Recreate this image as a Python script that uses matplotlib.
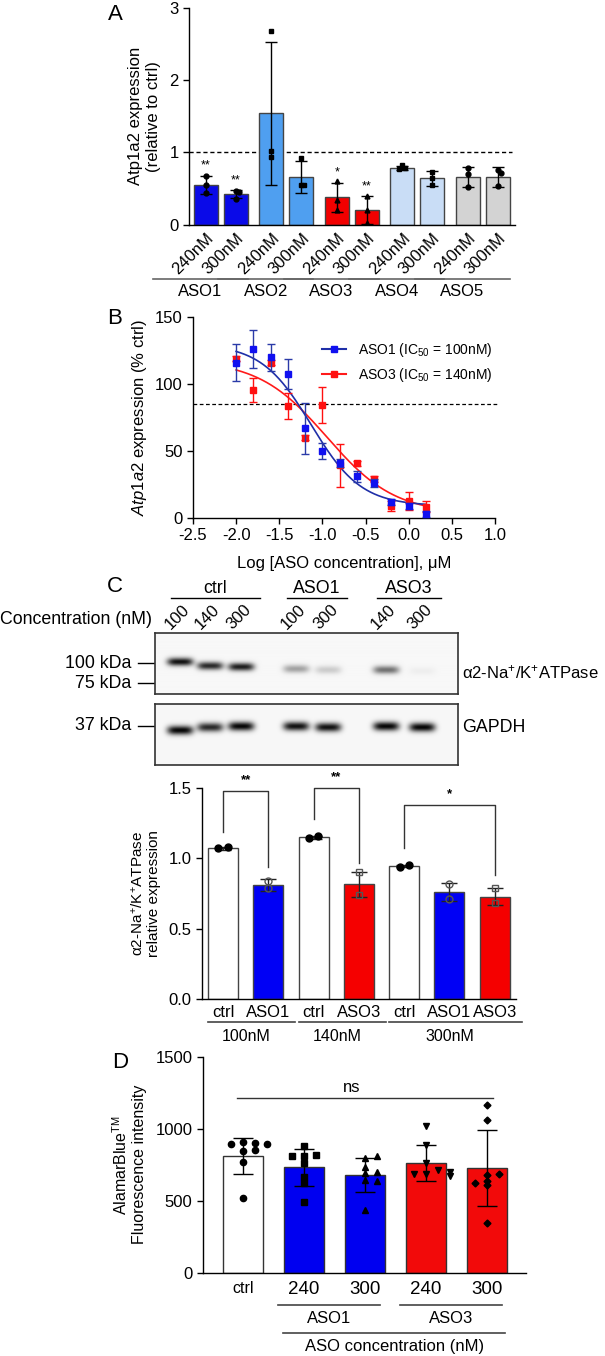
import matplotlib
matplotlib.use('Agg')
import matplotlib.pyplot as plt
import numpy as np
from matplotlib.lines import Line2D

plt.rcParams['font.family'] = ['Liberation Sans', 'DejaVu Sans']
plt.rcParams['axes.unicode_minus'] = False
plt.rcParams['mathtext.fontset'] = 'custom'
plt.rcParams['mathtext.rm'] = 'Liberation Sans'
plt.rcParams['mathtext.it'] = 'Liberation Sans:italic'
plt.rcParams['axes.linewidth'] = 1.0

# ---------------- data ----------------
# panel A: qPCR screen
a_groups = ['ASO1', 'ASO2', 'ASO3', 'ASO4', 'ASO5']
a_doses = ['240nM', '300nM']
a_mean = [0.55, 0.42, 1.54, 0.66, 0.38, 0.20, 0.78, 0.64, 0.66, 0.66]
a_sd = [0.12, 0.055, 0.99, 0.22, 0.20, 0.19, 0.03, 0.10, 0.14, 0.135]
a_points = [[0.68, 0.55, 0.44], [0.47, 0.45, 0.35], [2.68, 1.02, 0.93],
            [0.92, 0.55, 0.55], [0.60, 0.34, 0.20], [0.39, 0.20, 0.02],
            [0.82, 0.79, 0.77], [0.73, 0.64, 0.55], [0.78, 0.70, 0.52],
            [0.76, 0.72, 0.53]]
a_stars = ['**', '**', '', '', '*', '**', '', '', '', '']
a_colors = ['#0a0ae8', '#4f9ff0', '#f20000', '#c9ddf6', '#d3d3d3']

# panel B: dose response
b_logx = [-2.0, -1.8, -1.6, -1.4, -1.2, -1.0, -0.8, -0.6, -0.4, -0.2, 0.0, 0.2]
b_aso1 = [116, 126, 120, 107.5, 67, 50, 41, 31, 26, 12, 9, 3]
b_aso1_err = [14, 14, 10, 11.5, 19, 6, 3, 4, 3, 2, 2, 2]
b_aso3 = [119, 95.5, 116, 83.6, 60, 84.3, 39.5, 40.8, 29, 9, 12.7, 8.5]
b_aso3_err = [2, 9, 2, 10, 2, 13.5, 16, 2, 2, 4, 7, 4]
# fitted 4-parameter curves (top, bottom, logIC50, hill)
b_fit1 = (130, 9, -1.13, 1.5)
b_fit3 = (118, 3, -0.95, 1.1)
b_ref = 85

# panel C: western blot
blot_groups = ['ctrl', 'ASO1', 'ASO3']
blot_lanes = ['100', '140', '300', '100', '300', '140', '300']
blot_alpha2 = [0.95, 0.85, 0.90, 0.35, 0.18, 0.55, 0.04]
blot_gapdh = [1.0, 0.85, 1.0, 0.95, 0.95, 1.0, 1.0]
c_labels = ['ctrl', 'ASO1', 'ctrl', 'ASO3', 'ctrl', 'ASO1', 'ASO3']
c_conc = ['100nM', '140nM', '300nM']
c_mean = [1.07, 0.81, 1.15, 0.815, 0.945, 0.763, 0.728]
c_err = [0.01, 0.04, 0.01, 0.09, 0.01, 0.065, 0.06]
c_points = [[1.07, 1.08], [0.84, 0.79], [1.145, 1.16], [0.90, 0.74],
            [0.94, 0.955], [0.82, 0.71], [0.79, 0.68]]

# panel D: AlamarBlue viability
d_labels = ['ctrl', '240', '300', '240', '300']
d_mean = [810, 732, 678, 760, 725]
d_err = [127, 130, 116, 124, 264]
d_points = [[905, 900, 895, 893, 845, 855, 771, 521],
            [882, 810, 817, 812, 760, 667, 625, 491],
            [736, 799, 810, 645, 639, 690, 701, 435],
            [1019, 887, 764, 685, 713, 685, 701, 674],
            [1164, 1060, 639, 678, 685, 609, 620, 343]]

W, H = 605, 1356
fig = plt.figure(figsize=(W / 100, H / 100), dpi=100)
FS = 12


def box(x0, y0, x1, y1):
    return [x0 / W, 1 - y1 / H, (x1 - x0) / W, (y1 - y0) / H]


def swarm(vals, step, tol):
    offs = []
    for i, v in enumerate(vals):
        k = sum(1 for u in vals[:i] if abs(u - v) < tol)
        offs.append(((k + 1) // 2) * step * (1 if k % 2 else -1) if k else 0.0)
    return offs


def style(ax):
    for s in ['top', 'right']:
        ax.spines[s].set_visible(False)
    ax.tick_params(direction='out', length=4, width=1, labelsize=FS)


# overlay in pixel coordinates for free text
ov = fig.add_axes([0, 0, 1, 1])
ov.set_xlim(0, W)
ov.set_ylim(H, 0)
ov.axis('off')
for letter, (px, py) in zip('ABCD', [(115, 14), (115, 318), (115, 587), (120, 1062)]):
    ov.text(px, py, letter, fontsize=16, ha='center', va='center')

# ---------------- A ----------------
axA = fig.add_axes(box(189, 7.7, 515, 224.7))
style(axA)
xa = np.array([g * 2.18 + d for g in range(len(a_groups)) for d in range(len(a_doses))])
cols = [a_colors[i // 2] for i in range(len(xa))]
axA.bar(xa, a_mean, width=0.8, color=cols, edgecolor='#444444', linewidth=1.0, zorder=2)
axA.errorbar(xa, a_mean, yerr=a_sd, fmt='none', ecolor='black', elinewidth=1,
             capsize=4.5, capthick=1, zorder=3)
mk = ['o', 's', '^', 's', 'o']
for i, pts in enumerate(a_points):
    off = swarm(pts, 0.1, 0.05)
    axA.plot(xa[i] + np.array(off), pts, ls='none', marker=mk[i // 2], ms=3.5,
             color='black', zorder=4)
    if a_stars[i]:
        axA.text(xa[i], a_mean[i] + a_sd[i] + 0.06, a_stars[i], ha='center',
                 va='bottom', fontsize=9)
axA.axhline(1, xmin=0, xmax=0.99, color='black', ls=(0, (3, 2)), lw=1, zorder=1)
axA.set_xlim(-0.57, 10.3)
axA.set_ylim(0, 3)
axA.set_yticks([0, 1, 2, 3])
axA.set_xticks(xa)
axA.set_xticklabels(a_doses * len(a_groups), rotation=45, ha='right',
                    rotation_mode='anchor', fontsize=12)
axA.tick_params(axis='x', length=0, pad=4)
axA.set_ylabel('Atp1a2 expression\n(relative to ctrl)', fontsize=FS, labelpad=6)
tr = axA.get_xaxis_transform()
for g, name in enumerate(a_groups):
    x0, x1 = xa[2 * g] - 1.77, xa[2 * g + 1] + 0.4
    axA.plot([x0, x1], [-0.25, -0.25], color='#666666', lw=1.2, transform=tr, clip_on=False)
    axA.text((x0 + x1) / 2, -0.31, name, ha='center', va='center', fontsize=FS,
             transform=tr)

# ---------------- B ----------------
axB = fig.add_axes(box(193, 317, 495, 518))
style(axB)


def logistic(x, p):
    top, bot, lic, hill = p
    return bot + (top - bot) / (1 + 10 ** ((x - lic) * hill))


xf = np.linspace(-2.0, 0.2, 200)
axB.plot(xf, logistic(xf, b_fit3), color='#ff1a1a', lw=1.2, zorder=2)
axB.plot(xf, logistic(xf, b_fit1), color='#1f2fa8', lw=1.2, zorder=2)
axB.errorbar(b_logx, b_aso3, yerr=b_aso3_err, fmt='s', color='#ff1010', ms=5,
             elinewidth=1, capsize=3, capthick=1, zorder=3)
axB.errorbar(b_logx, b_aso1, yerr=b_aso1_err, fmt='s', color='#1010f0', ms=5,
             elinewidth=1, capsize=3, capthick=1, ecolor='#2a3aa8', zorder=4)
axB.plot([-2.5, 1.05], [b_ref, b_ref], color='black', ls=(0, (3, 2)), lw=0.9,
         clip_on=False, zorder=1)
axB.set_xlim(-2.5, 1.0)
axB.set_ylim(0, 150)
axB.set_xticks(np.arange(-2.5, 1.01, 0.5))
axB.set_xticklabels([f'{v:.1f}' for v in np.arange(-2.5, 1.01, 0.5)])
axB.set_yticks([0, 50, 100, 150])
axB.set_xlabel('Log [ASO concentration], \u03bcM', fontsize=FS, labelpad=9)
axB.set_ylabel('$\\it{Atp1a2}$ expression (% ctrl)', fontsize=FS)
handles = [Line2D([], [], color='#1f2fa8', marker='s', mfc='#1010f0', mec='#1010f0', ms=5),
           Line2D([], [], color='#ff1a1a', marker='s', mfc='#ff1010', mec='#ff1010', ms=5)]
axB.legend(handles, ['ASO1 (IC$_{50}$ = 100nM)', 'ASO3 (IC$_{50}$ = 140nM)'],
           loc='upper left', bbox_to_anchor=(0.41, 0.91), frameon=False,
           fontsize=10, handlelength=1.7, handletextpad=0.9, labelspacing=0.5,
           borderaxespad=0)

# ---------------- C: blot ----------------
lane_px = [180, 210, 241, 296, 328, 386, 422]
alpha_y = [662, 666, 667, 669, 670, 670, 671]
gapdh_y = [730, 727, 726, 726, 727, 726, 727]
bl_x0, bl_x1 = 155, 458
for (y0, y1, inten, ys, hh) in [(632.7, 694, blot_alpha2, alpha_y, 4.0),
                               (704, 765, blot_gapdh, gapdh_y, 4.5)]:
    axb = fig.add_axes(box(bl_x0, y0, bl_x1, y1))
    gx = np.arange(bl_x0, bl_x1, 0.5)
    gy = np.arange(y0, y1, 0.5)
    X, Y = np.meshgrid(gx, gy)
    dark = np.zeros_like(X)
    for xc, yc, v in zip(lane_px, ys, inten):
        dark += v * np.exp(-((X - xc) / 13) ** 4) * np.exp(-((Y - yc) / hh) ** 2)
    img = 0.97 - 0.95 * np.clip(dark, 0, 1)
    axb.imshow(img, cmap='gray', vmin=0, vmax=1, extent=[bl_x0, bl_x1, y1, y0],
               aspect='auto', interpolation='bilinear')
    axb.set_xticks([])
    axb.set_yticks([])
    for s in axb.spines.values():
        s.set_color('#333333')
        s.set_linewidth(1.2)

ov.text(0, 620, 'Concentration (nM)', fontsize=12.8, ha='left', va='center')
for xc, lab in zip(lane_px, blot_lanes):
    ov.text(xc - 9, 630, lab, fontsize=12, rotation=45, ha='left', va='baseline',
            rotation_mode='anchor')
grp_lanes = [(0, 2), (3, 4), (5, 6)]
for name, (i0, i1) in zip(blot_groups, grp_lanes):
    x0, x1 = lane_px[i0] - 9, lane_px[i1] + 19
    ov.plot([x0, x1], [598, 598], color='black', lw=1)
    ov.text((x0 + x1) / 2, 597, name, fontsize=12.8, ha='center', va='bottom')
for lab, y in [('100 kDa', 663), ('75 kDa', 683), ('37 kDa', 726)]:
    ov.text(131, y, lab, fontsize=12.8, ha='right', va='center')
    ov.plot([138, 154], [y, y], color='black', lw=1)
ov.text(462, 672, '\u03b12-Na$^{+}$/K$^{+}$ATPase', fontsize=12, ha='left', va='center')
ov.text(462, 727, 'GAPDH', fontsize=12.8, ha='left', va='center')

# ---------------- C: bars ----------------
axC = fig.add_axes(box(201.7, 787.8, 516, 999.3))
style(axC)
xc_ = np.arange(len(c_labels))
ccol = {'ctrl': 'white', 'ASO1': '#0000f5', 'ASO3': '#f50000'}
axC.bar(xc_, c_mean, width=0.66, color=[ccol[l] for l in c_labels],
        edgecolor='#444444', linewidth=1.0, zorder=2)
axC.errorbar(xc_, c_mean, yerr=c_err, fmt='none', ecolor='#222222', elinewidth=1,
             capsize=6, capthick=1, zorder=3)
for i, pts in enumerate(c_points):
    off = [-0.1, 0.1]
    if c_labels[i] == 'ctrl':
        axC.plot(xc_[i] + np.array(off), pts, ls='none', marker='o', ms=5,
                 color='black', zorder=4)
    else:
        m = 'o' if c_labels[i] == 'ASO1' else 's'
        axC.plot([xc_[i]] * len(pts), pts, ls='none', marker=m, ms=5, mfc='none',
                 mec='#555555', mew=1, zorder=4)
brackets = [(0, 1, '**', 1.48, 1.19, 0.94), (2, 3, '**', 1.50, 1.28, 0.97),
            (4, 6, '*', 1.38, 1.07, 0.88)]
for i0, i1, st, top, l0, l1 in brackets:
    axC.plot([xc_[i0], xc_[i0], xc_[i1], xc_[i1]], [l0, top, top, l1],
             color='#333333', lw=1, clip_on=False, zorder=1)
    axC.text((xc_[i0] + xc_[i1]) / 2, top + 0.03, st, ha='center', va='bottom',
             fontsize=9.5, fontweight='bold')
axC.set_xlim(-0.47, 6.47)
axC.set_ylim(0, 1.5)
axC.set_yticks([0, 0.5, 1.0, 1.5])
axC.set_yticklabels(['0.0', '0.5', '1.0', '1.5'])
axC.set_xticks(xc_)
axC.set_xticklabels(c_labels, fontsize=FS)
axC.tick_params(axis='x', length=0, pad=4)
axC.set_ylabel('\u03b12-Na$^{+}$/K$^{+}$ATPase\nrelative expression', fontsize=11,
               labelpad=5)
trc = axC.get_xaxis_transform()
for name, (i0, i1) in zip(c_conc, [(0, 1), (2, 3), (4, 6)]):
    x0, x1 = xc_[i0] - 0.33, xc_[i1] + 0.6
    axC.plot([x0, x1], [-0.106, -0.106], color='#444444', lw=1.2, transform=trc,
             clip_on=False)
    axC.text((x0 + x1) / 2 - 0.12, -0.177, name, ha='center', va='center',
             fontsize=11.5, transform=trc)

# ---------------- D ----------------
axD = fig.add_axes(box(202.7, 1056.7, 526, 1272.7))
style(axD)
xd = np.arange(len(d_labels))
dcol = ['white', '#0000f0', '#0000f0', '#f20a0a', '#f20a0a']
axD.bar(xd, d_mean, width=0.656, color=dcol, edgecolor='#333333', linewidth=1.0, zorder=2)
axD.errorbar(xd, d_mean, yerr=d_err, fmt='none', ecolor='black', elinewidth=1,
             capsize=7, capthick=1, zorder=3)
dmk = ['o', 's', '^', 'v', 'D']
for i, pts in enumerate(d_points):
    off = swarm(pts, 0.2, 30)
    axD.plot(xd[i] + np.array(off), pts, ls='none', marker=dmk[i],
             ms=4.5 if dmk[i] != 'D' else 3.5, color='black', zorder=4)
axD.plot([-0.1, 4.1], [1215, 1215], color='#333333', lw=1)
axD.text(1.79, 1235, 'ns', ha='center', va='bottom', fontsize=FS)
axD.set_xlim(-0.656, 4.64)
axD.set_ylim(0, 1500)
axD.set_yticks([0, 500, 1000, 1500])
axD.set_xticks(xd)
axD.set_xticklabels(d_labels, fontsize=13.5)
axD.get_xticklabels()[0].set_fontsize(11.5)
axD.tick_params(axis='x', length=0, pad=6)
axD.set_ylabel('AlamarBlue$^{\\mathrm{TM}}$\nFluorescence intensity', fontsize=11.5,
               labelpad=6)
trd = axD.get_xaxis_transform()
for name, (i0, i1) in zip(['ASO1', 'ASO3'], [(1, 2), (3, 4)]):
    x0, x1 = xd[i0] - 0.42, xd[i1] + 0.25
    axD.plot([x0, x1], [-0.15, -0.15], color='#444444', lw=1.2, transform=trd,
             clip_on=False)
    axD.text((x0 + x1) / 2, -0.21, name, ha='center', va='center', fontsize=FS,
             transform=trd)
axD.plot([xd[1] - 0.34, xd[4] + 0.3], [-0.278, -0.278], color='#444444', lw=1.2,
         transform=trd, clip_on=False)
axD.text((xd[1] + xd[4]) / 2 - 0.02, -0.34, 'ASO concentration (nM)', ha='center',
         va='center', fontsize=FS, transform=trd)

fig.savefig('out.png', dpi=100)
